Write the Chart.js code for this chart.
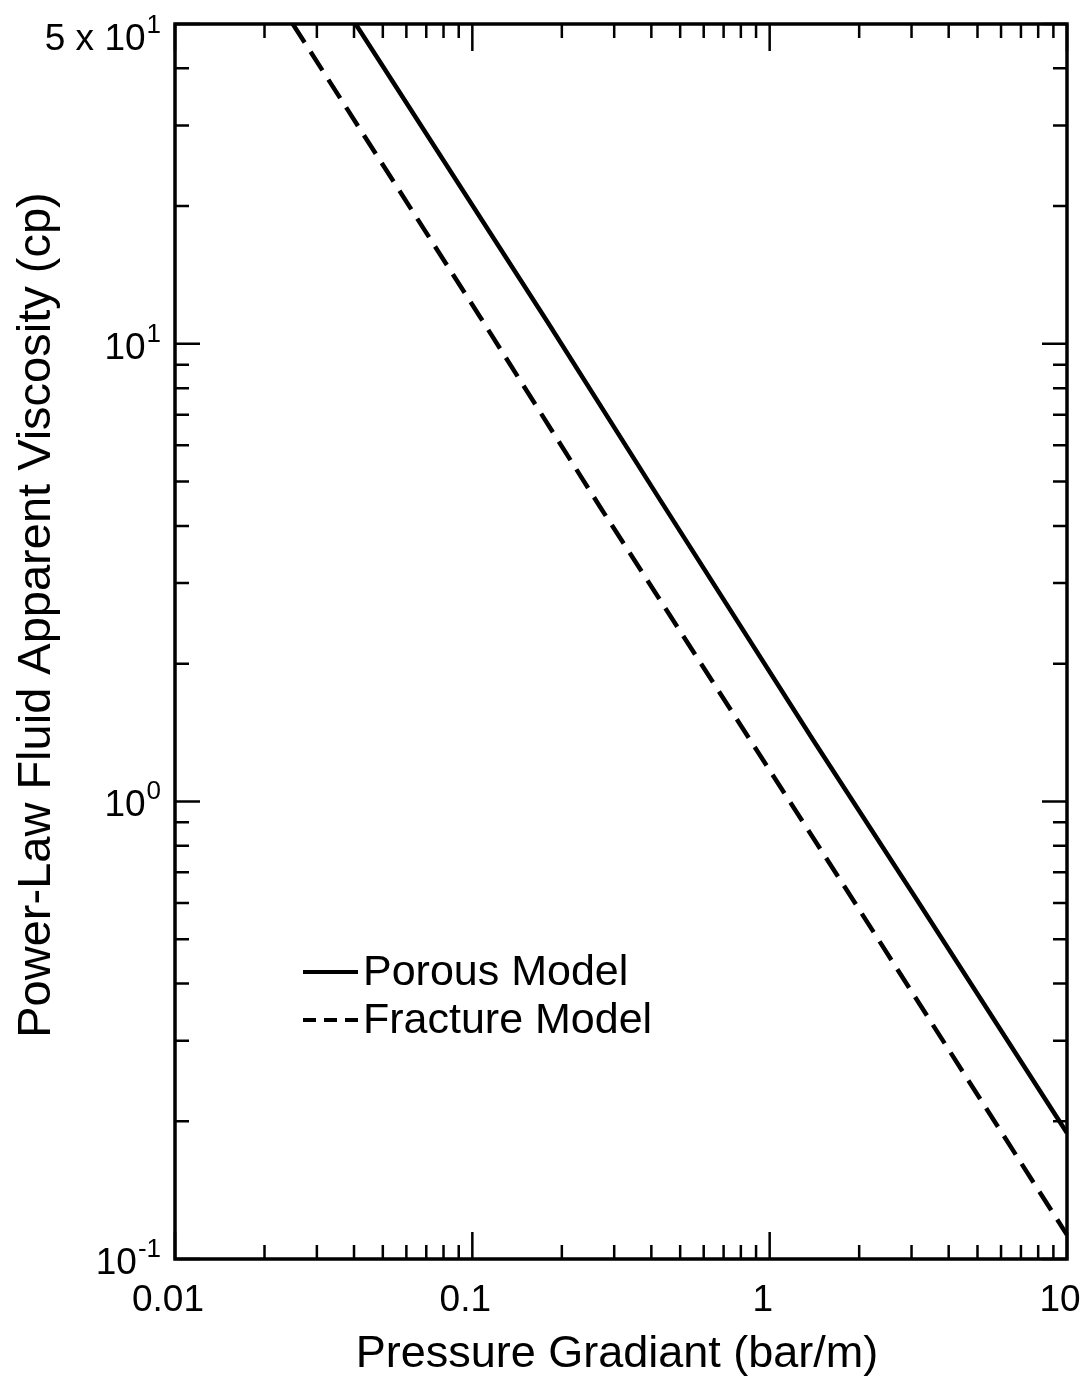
<!DOCTYPE html>
<html>
<head>
<meta charset="utf-8">
<title>Power-Law Fluid Apparent Viscosity</title>
<script src="https://cdn.jsdelivr.net/npm/chart.js@4.4.1/dist/chart.umd.min.js"></script>
<style>
  html, body { margin: 0; padding: 0; background: #fff; }
  #wrap { width: 1089px; height: 1383px; }
</style>
</head>
<body>
<div id="wrap"><canvas id="myChart" width="1089" height="1383"></canvas></div>
<script>
// data
const porousX = [0.0405, 0.1784, 0.428, 1.40, 3.13, 10];
const porousY = [50, 11.2, 4.56, 1.362, 0.609, 0.1886];
const fractureX = [0.0249, 0.1062, 0.269, 1.908, 10];
const fractureY = [50, 11.45, 4.40, 0.609, 0.1129];

// axis ticks and labels
const xMajor = [0.01, 0.1, 1, 10];
const xLabels = ["0.01", "0.1", "1", "10"];
const yMajor = [0.1, 1, 10, 50];
const yLabelBase = ["10", "10", "10", "5 x 10"];
const yLabelExp = ["-1", "0", "1", "1"];

const xTitle = "Pressure Gradiant (bar/m)";
const yTitle = "Power-Law Fluid Apparent Viscosity (cp)";
const seriesNames = ["Porous Model", "Fracture Model"];

const FONT = "'Liberation Sans', Arial, Helvetica, sans-serif";

function toPoints(xs, ys) {
  return xs.map((x, i) => ({ x: x, y: ys[i] }));
}

// minor ticks 2..9 in each decade inside the range
function minorTicks(min, max) {
  const out = [];
  for (let d = Math.floor(Math.log10(min)); d <= Math.ceil(Math.log10(max)); d++) {
    for (let m = 2; m <= 9; m++) {
      const v = m * Math.pow(10, d);
      if (v > min && v < max) out.push(v);
    }
  }
  return out;
}

// frame, inward ticks, labels, legend and titles
const decorations = {
  id: "decorations",
  afterDraw(chart) {
    const ctx = chart.ctx;
    const a = chart.chartArea;
    const xs = chart.scales.x, ys = chart.scales.y;
    ctx.save();
    ctx.strokeStyle = "#000";
    ctx.fillStyle = "#000";

    // frame
    ctx.lineWidth = 3.5;
    ctx.strokeRect(a.left, a.top, a.right - a.left, a.bottom - a.top);

    // x ticks, bottom and top
    ctx.lineWidth = 2.5;
    const xTick = (v, len) => {
      const px = xs.getPixelForValue(v);
      ctx.beginPath();
      ctx.moveTo(px, a.bottom); ctx.lineTo(px, a.bottom - len);
      ctx.moveTo(px, a.top); ctx.lineTo(px, a.top + len);
      ctx.stroke();
    };
    xMajor.forEach(v => xTick(v, 27));
    minorTicks(0.01, 10).forEach(v => xTick(v, 14));

    // y ticks, left and right
    const yTick = (v, len) => {
      const py = ys.getPixelForValue(v);
      ctx.beginPath();
      ctx.moveTo(a.left, py); ctx.lineTo(a.left + len, py);
      ctx.moveTo(a.right, py); ctx.lineTo(a.right - len, py);
      ctx.stroke();
    };
    yMajor.forEach(v => yTick(v, 25));
    minorTicks(0.1, 50).forEach(v => yTick(v, 14));

    // x tick labels
    ctx.font = "37px " + FONT;
    ctx.textAlign = "center";
    ctx.textBaseline = "alphabetic";
    xMajor.forEach((v, i) => {
      ctx.fillText(xLabels[i], xs.getPixelForValue(v) - 7, a.bottom + 52);
    });

    // y tick labels with superscripts
    const rightEdge = a.left - 14;
    yMajor.forEach((v, i) => {
      const py = ys.getPixelForValue(v);
      const base = Math.max(py + 15, 50);
      ctx.font = "26px " + FONT;
      const wExp = ctx.measureText(yLabelExp[i]).width;
      ctx.textAlign = "left";
      ctx.fillText(yLabelExp[i], rightEdge - wExp, base - 17);
      ctx.font = "37px " + FONT;
      ctx.textAlign = "right";
      ctx.fillText(yLabelBase[i], rightEdge - wExp - 1, base);
    });

    // legend
    const lx = 303, lw = 55;
    const rows = [972, 1020];
    ctx.lineWidth = 4;
    ctx.beginPath();
    ctx.moveTo(lx, rows[0]); ctx.lineTo(lx + lw, rows[0]);
    ctx.stroke();
    ctx.setLineDash([13, 8]);
    ctx.beginPath();
    ctx.moveTo(lx, rows[1]); ctx.lineTo(lx + lw, rows[1]);
    ctx.stroke();
    ctx.setLineDash([]);
    ctx.font = "43px " + FONT;
    ctx.textAlign = "left";
    ctx.textBaseline = "middle";
    seriesNames.forEach((name, i) => ctx.fillText(name, lx + lw + 5, rows[i] + 1));

    // axis titles
    ctx.font = "45px " + FONT;
    ctx.textAlign = "center";
    ctx.textBaseline = "alphabetic";
    ctx.fillText(xTitle, 617, 1367);
    ctx.save();
    ctx.translate(50, 615);
    ctx.rotate(-Math.PI / 2);
    ctx.font = "47px " + FONT;
    ctx.fillText(yTitle, 0, 0);
    ctx.restore();

    ctx.restore();
  }
};

const ctx = document.getElementById("myChart").getContext("2d");
new Chart(ctx, {
  type: "scatter",
  data: {
    datasets: [
      {
        label: seriesNames[0],
        data: toPoints(porousX, porousY),
        showLine: true,
        borderColor: "#000",
        borderWidth: 4.5,
        pointRadius: 0,
        tension: 0
      },
      {
        label: seriesNames[1],
        data: toPoints(fractureX, fractureY),
        showLine: true,
        borderColor: "#000",
        borderWidth: 4.5,
        borderDash: [22, 11],
        pointRadius: 0,
        tension: 0
      }
    ]
  },
  options: {
    responsive: false,
    animation: false,
    devicePixelRatio: 1,
    layout: { padding: { left: 175, top: 24, right: 22, bottom: 124 } },
    plugins: {
      legend: { display: false },
      tooltip: { enabled: false }
    },
    scales: {
      x: { type: "logarithmic", min: 0.01, max: 10, display: false },
      y: { type: "logarithmic", min: 0.1, max: 50, display: false }
    }
  },
  plugins: [decorations]
});
</script>
</body>
</html>
